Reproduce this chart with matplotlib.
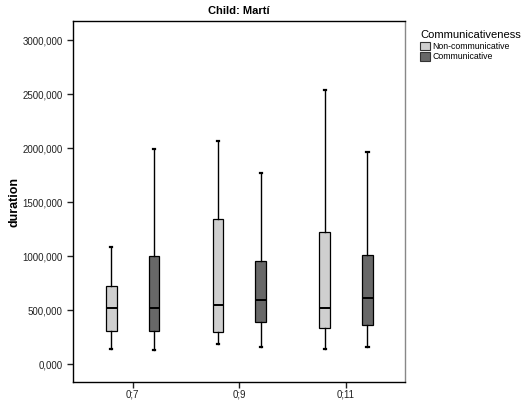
import matplotlib.pyplot as plt
import numpy as np

plt.rcParams['font.family'] = ['Liberation Sans', 'DejaVu Sans']

ages = ['0;7', '0;9', '0;11']
groups = ['Non-communicative', 'Communicative']
colors = ['#cfcfcf', '#686868']

# five-number summaries per age: (low whisker, Q1, median, Q3, high whisker)
non_comm = [
    (142, 305, 521, 728, 1089),
    (188, 302, 552, 1345, 2070),
    (144, 336, 518, 1228, 2540),
]
comm = [
    (132, 311, 521, 1000, 1996),
    (157, 389, 592, 956, 1774),
    (154, 367, 617, 1009, 1969),
]

fig = plt.figure(figsize=(5.21, 4.01), dpi=100)
ax = fig.add_axes([0.140, 0.047, 0.637, 0.900])

offset = 0.2
for k, (series, col) in enumerate(zip([non_comm, comm], colors)):
    stats = []
    for lo, q1, med, q3, hi in series:
        stats.append({'whislo': lo, 'q1': q1, 'med': med, 'q3': q3,
                      'whishi': hi, 'fliers': []})
    pos = np.arange(len(ages)) + (offset if k else -offset)
    ax.bxp(stats, positions=pos, widths=0.1, patch_artist=True,
           showfliers=False, capwidths=0.02,
           boxprops=dict(facecolor=col, edgecolor='black', linewidth=0.9),
           medianprops=dict(color='black', linewidth=1.4),
           whiskerprops=dict(color='black', linewidth=1.0),
           capprops=dict(color='black', linewidth=1.6))

ax.set_xlim(-0.56, 2.55)
ax.set_ylim(-167, 3176)
ax.set_xticks(range(len(ages)))
ax.set_xticklabels(ages)
yt = np.arange(0, 3001, 500)
ax.set_yticks(yt)
ax.set_yticklabels(['%d,000' % v for v in yt])
ax.tick_params(labelsize=7, length=4, width=1, colors='#222222')
ax.tick_params(axis='x', pad=1.5)
for s in ['left', 'top', 'bottom']:
    ax.spines[s].set_color('black')
ax.spines['right'].set_color('#888888')
for s in ax.spines.values():
    s.set_linewidth(1.0)

ax.set_ylabel('duration', fontsize=9, fontweight='bold', labelpad=1.5)
ax.set_title('Child: Martí', fontsize=8, fontweight='bold', pad=5)

handles = [plt.Rectangle((0, 0), 1, 1, facecolor=c, edgecolor='#333333',
                         linewidth=0.8) for c in colors]
leg = fig.legend(handles, groups, title='Communicativeness',
                 loc='upper left', bbox_to_anchor=(0.800, 0.933),
                 frameon=False, fontsize=6.3, title_fontsize=8,
                 handlelength=1.1, handleheight=1.1, handletextpad=0.3,
                 labelspacing=0.15, borderaxespad=0)
leg._legend_box.align = 'left'

fig.savefig('out.png', dpi=100)
